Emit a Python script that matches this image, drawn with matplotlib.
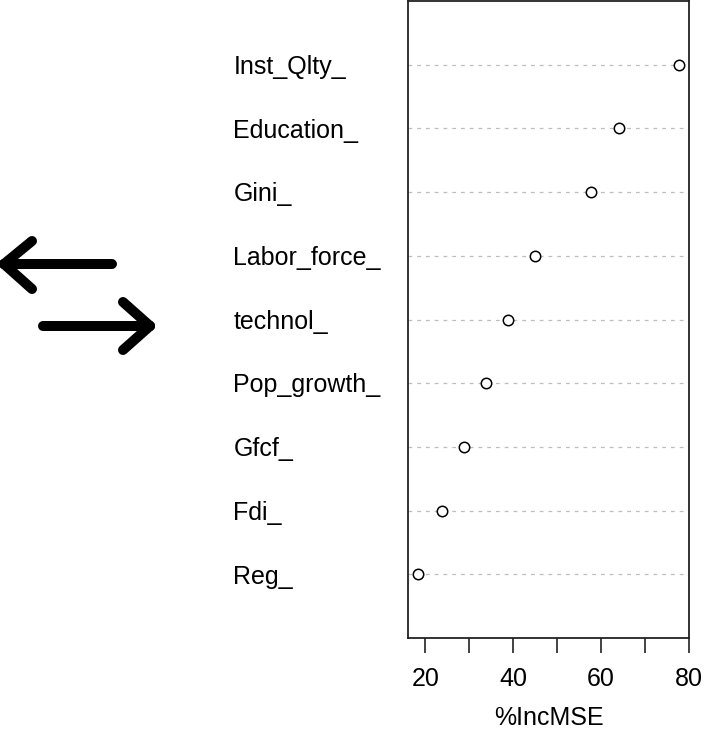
import numpy as np
import matplotlib
matplotlib.use("Agg")
import matplotlib.pyplot as plt
from matplotlib.lines import Line2D

plt.rcParams['font.family'] = ['Liberation Sans', 'DejaVu Sans']

# importancia das variaveis (%IncMSE), de baixo para cima
variaveis = ["Reg_", "Fdi_", "Gfcf_", "Pop_growth_", "technol_",
             "Labor_force_", "Gini_", "Education_", "Inst_Qlty_"]
inc_mse = [18.45, 23.8, 28.9, 33.9, 38.8, 44.9, 57.7, 64.1, 77.7]

ticks = [20, 30, 40, 50, 60, 70, 80]
tick_labels = ["20", "", "40", "", "60", "", "80"]

W, H = 706, 731
fig = plt.figure(figsize=(W / 100, H / 100), dpi=100)
ax = fig.add_axes([408 / W, 1 - 638 / H, 281 / W, 637 / H])

y = np.arange(1, len(variaveis) + 1)

# linhas pontilhadas de guia, uma por variavel
for yy in y:
    ax.axhline(yy, color="#bdbdbd", lw=0.9, linestyle=(0, (3, 4)), zorder=1)

ax.plot(inc_mse, y, linestyle="none", marker="o", markersize=7.5,
        markerfacecolor="white", markeredgecolor="black",
        markeredgewidth=1.1, zorder=3)

# limites no estilo do dotchart do R (4% de folga)
r = max(inc_mse) - min(inc_mse)
ax.set_xlim(min(inc_mse) - 0.04 * r, max(inc_mse) + 0.04 * r)
ax.set_ylim(0, len(variaveis) + 1)

ax.set_xticks(ticks)
ax.set_xticklabels(tick_labels, fontsize=18)
ax.tick_params(axis="x", length=11, width=1.2, pad=10, color="#222222")
ax.set_yticks([])
for s in ax.spines.values():
    s.set_linewidth(1.3)
    s.set_color("#222222")

ax.set_xlabel("%IncMSE", fontsize=18, labelpad=11)

# nomes das variaveis alinhados a esquerda
trans = matplotlib.transforms.blended_transform_factory(ax.transAxes, ax.transData)
for nome, yy in zip(variaveis, y):
    ax.text(-0.621, yy - 0.035, nome, transform=trans, ha="left", va="center",
            fontsize=18, color="black")

# setas desenhadas a esquerda
setas = [
    [(4, 264), (112, 264)],
    [(4, 264), (32, 241)],
    [(4, 264), (32, 289)],
    [(43, 326), (150, 326)],
    [(150, 326), (123, 302)],
    [(150, 326), (123, 350)],
]
for (x0, y0), (x1, y1) in setas:
    fig.add_artist(Line2D([x0 / W, x1 / W], [1 - y0 / H, 1 - y1 / H],
                          transform=fig.transFigure, color="black", lw=7.2,
                          solid_capstyle="round"))

fig.savefig("out.png", dpi=100)
